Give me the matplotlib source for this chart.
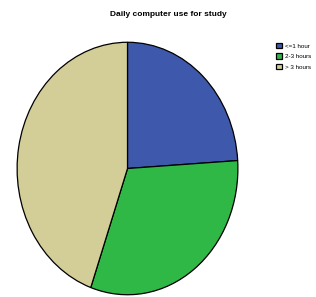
import matplotlib.pyplot as plt

labels = ['<=1 hour', '2-3 hours', '> 3 hours']
shares = [24.0, 31.4, 44.6]
colors = ['#3e58ac', '#2fb846', '#d3ce97']

plt.rcParams['font.family'] = ['Liberation Sans', 'DejaVu Sans']

fig = plt.figure(figsize=(3.16, 2.97), dpi=100)
ax = fig.add_axes([16 / 316, 1 / 297, 223 / 316, 255 / 297])

wedges, _ = ax.pie(shares, colors=colors, startangle=90, counterclock=False,
                   radius=1, wedgeprops={'edgecolor': 'black', 'linewidth': 0.9})
ax.set_aspect('auto')
ax.set_xlim(-1.01, 1.01)
ax.set_ylim(-1.01, 1.01)

fig.text(168 / 316, 1 - 14 / 297, 'Daily computer use for study',
         ha='center', va='center', fontsize=6, fontweight='bold')

fig.legend(wedges, labels, loc='upper left', bbox_to_anchor=(276 / 316, 1 - 43 / 297),
           frameon=False, fontsize=4.5, handlelength=0.9, handleheight=0.9,
           handletextpad=0.6, labelspacing=0.75, borderpad=0, borderaxespad=0)

fig.savefig('out.png', dpi=100)
